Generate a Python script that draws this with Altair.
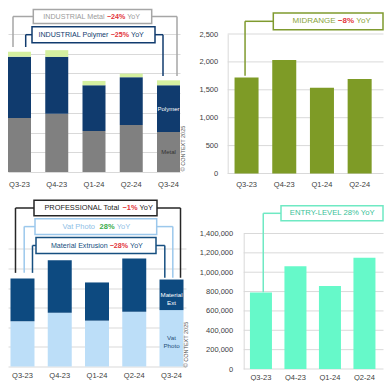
import altair as alt
import pandas as pd

# ---------------- data ----------------
quarters = ["Q3-23", "Q4-23", "Q1-24", "Q2-24", "Q3-24"]

ind_series = ["Metal", "Polymer", "Other"]
ind_metal = [274, 296, 208, 239, 203]
ind_polymer = [311, 288, 232, 242, 237]
ind_other = [25, 34, 22, 18, 25]
ind_ticks = [0, 100, 200, 300, 400, 500, 600, 700]

mid_units = [1722, 2034, 1537, 1693, 1573]
mid_ticks = [0, 500, 1000, 1500, 2000, 2500]

pro_series = ["Vat Photo", "Material Extrusion"]
pro_vat = [231, 275, 234, 280, 288]
pro_mat = [218, 267, 195, 271, 156]
pro_ticks = [0, 100, 200, 300, 400, 500, 600]

entry_units = [790000, 1061000, 858000, 1149000, 1007000]
entry_ticks = [0, 200000, 400000, 600000, 800000, 1000000, 1200000, 1400000]

# quarters whose bars fall inside the visible (cropped) area of the right-hand panels
visible_right = quarters[:4]

# ---------------- style ----------------
FONT = "Arial, Liberation Sans, sans-serif"
GRID = "#d9d9d9"
LABEL = "#404040"
RED = "#e2343a"
GREEN = "#3aab4a"
C_METAL = "#808080"
C_POLY = "#103b6e"
C_OTHER = "#d5f0a0"
C_MID = "#7e9b26"
C_VAT = "#bcdef8"
C_MAT = "#0d4a80"
C_ENTRY = "#66f9c9"

ONE = pd.DataFrame({"k": [0]})

AW = {' ': 278, '-': 333, '\u2212': 584, '%': 889, ',': 278, '.': 278,
      'A': 667, 'B': 667, 'C': 722, 'D': 722, 'E': 667, 'F': 611, 'G': 778, 'H': 722,
      'I': 278, 'J': 500, 'K': 667, 'L': 556, 'M': 833, 'N': 722, 'O': 778, 'P': 667,
      'Q': 778, 'R': 722, 'S': 667, 'T': 611, 'U': 722, 'V': 667, 'W': 944, 'X': 667,
      'Y': 667, 'Z': 611, 'a': 556, 'b': 556, 'c': 500, 'd': 556, 'e': 556, 'f': 278,
      'g': 556, 'h': 556, 'i': 222, 'j': 222, 'k': 500, 'l': 222, 'm': 833, 'n': 556,
      'o': 556, 'p': 556, 'q': 556, 'r': 333, 's': 500, 't': 278, 'u': 556, 'v': 500,
      'w': 722, 'x': 500, 'y': 500, 'z': 500}


def tw(s, fs):
    return sum(AW.get(c, 556) for c in s) * fs / 1000.0


def x_axis(pad, values=None):
    kw = dict(title=None, labelAngle=0, ticks=False, domain=False, grid=False,
              labelFontSize=7.5, labelColor=LABEL, labelPadding=pad, labelFont=FONT)
    if values is not None:
        kw["values"] = values
    return alt.Axis(**kw)


def hline(x1, x2, y, color, w=1.5):
    return alt.Chart(ONE).mark_rule(color=color, strokeWidth=w).encode(
        x=alt.value(x1), x2=alt.value(x2), y=alt.value(y))


def vline(xs, xa, ys, ya, q, v, dx, ytop, color, w=1.5):
    df = pd.DataFrame({"Q": [q], "v": [v]})
    return alt.Chart(df).mark_rule(color=color, strokeWidth=w, xOffset=dx).encode(
        x=alt.X("Q:N", scale=xs, axis=xa),
        y=alt.Y("v:Q", scale=ys, axis=ya),
        y2=alt.value(ytop))


def box(x1, x2, y1, y2, color, w=1.5):
    return alt.Chart(ONE).mark_rect(fill="white", stroke=color, strokeWidth=w).encode(
        x=alt.value(x1), x2=alt.value(x2), y=alt.value(y1), y2=alt.value(y2))


def rich(cx, cy, parts, fs):
    sp = tw(" ", fs)
    widths = [tw(t, fs) for t, _, _ in parts]
    total = sum(widths) + sp * (len(parts) - 1)
    x = cx - total / 2
    out = []
    for (t, col, bold), w in zip(parts, widths):
        out.append(alt.Chart(ONE).mark_text(
            align="left", baseline="middle", fontSize=fs, font=FONT, color=col,
            fontWeight="bold" if bold else "normal").encode(
            x=alt.value(x), y=alt.value(cy), text=alt.value(t)))
        x += w + sp
    return out


def copyright_mark(x, y):
    return alt.Chart(ONE).mark_text(angle=270, fontSize=5.5, font=FONT, color="#595959",
                                    align="center", baseline="middle").encode(
        x=alt.value(x), y=alt.value(y), text=alt.value("\u00a9 CONTEXT 2025"))


def y_axis_num(values, pad, offset=0):
    kw = dict(title=None, values=values, labelExpr="format(datum.value, ',')",
              labelFontSize=7.5, labelColor=LABEL, labelFont=FONT, labelPadding=pad,
              ticks=False, domain=True, domainColor=GRID, grid=False)
    if offset:
        kw["offset"] = offset
    return alt.Axis(**kw)


def grid_rules(ticks, ys, ya, x1, x2):
    return alt.Chart(pd.DataFrame({"t": ticks})).mark_rule(color=GRID, strokeWidth=1).encode(
        y=alt.Y("t:Q", scale=ys, axis=ya), x=alt.value(x1), x2=alt.value(x2))


# ================= INDUSTRIAL (top-left) =================
W_TL, H_TL = 172, 138
xs_tl = alt.Scale(domain=quarters, paddingInner=0.3826, paddingOuter=0)
ys_tl = alt.Scale(domain=[0, 700], nice=False)
xa_tl = x_axis(8)
ya_tl = alt.Axis(title=None, values=ind_ticks, labels=False, ticks=False, domain=False,
                 grid=True, gridColor=GRID, gridWidth=1)

tl_rows = []
tl_cols = [C_METAL, C_POLY, C_OTHER]
for i, q in enumerate(quarters):
    for k, (s, arr) in enumerate(zip(ind_series, [ind_metal, ind_polymer, ind_other])):
        tl_rows.append({"Q": q, "S": s, "V": arr[i], "k": k, "c": tl_cols[k]})
tl_df = pd.DataFrame(tl_rows)

tl_bars = alt.Chart(tl_df).mark_bar().encode(
    x=alt.X("Q:N", scale=xs_tl, axis=xa_tl),
    y=alt.Y("V:Q", scale=ys_tl, axis=ya_tl, stack="zero"),
    color=alt.Color("c:N", scale=None),
    order=alt.Order("k:Q", sort="ascending"),
)
ind_total = [a + b + c for a, b, c in zip(ind_metal, ind_polymer, ind_other)]
tl_lab = pd.DataFrame({
    "Q": [quarters[-1], quarters[-1]],
    "m": [ind_metal[-1] / 2, ind_metal[-1] + ind_polymer[-1] / 2],
    "t": ["Metal", "Polymer"],
    "c": ["#333333", "#ffffff"],
})
tl_text = alt.Chart(tl_lab).mark_text(fontSize=6, font=FONT, baseline="middle").encode(
    x=alt.X("Q:N", scale=xs_tl, axis=xa_tl),
    y=alt.Y("m:Q", scale=ys_tl, axis=ya_tl),
    text="t:N", color=alt.Color("c:N", scale=None))

C_MBOX = "#a6a6a6"
tl_layers = [
    tl_bars, tl_text,
    vline(xs_tl, xa_tl, ys_tl, ya_tl, quarters[0], ind_total[0] + 24, -6.5, -17.5, C_MBOX),
    hline(5, 25.3, -17.5, C_MBOX),
    vline(xs_tl, xa_tl, ys_tl, ya_tl, quarters[-1], ind_total[-1] + 22, 8.5, -17.5, C_MBOX),
    hline(143.7, 169, -17.5, C_MBOX),
    vline(xs_tl, xa_tl, ys_tl, ya_tl, quarters[0], ind_total[0] + 24, 6.2, 0.7, C_POLY),
    hline(17.7, 24, 0.7, C_POLY),
    vline(xs_tl, xa_tl, ys_tl, ya_tl, quarters[-1], ind_total[-1] + 22, -5.5, 0.7, C_POLY),
    hline(147, 155, 0.7, C_POLY),
    box(25.3, 143.7, -24.5, -10.5, C_MBOX),
    box(24, 147, -7.3, 8.7, C_POLY),
    copyright_mark(175, 114.5),
]
tl_layers += rich(84, -17.5, [("INDUSTRIAL Metal", "#9a9a9a", False),
                              ("\u221224%", RED, True), ("YoY", "#9a9a9a", False)], 7.1)
tl_layers += rich(83.5, 0.7, [("INDUSTRIAL Polymer", C_POLY, False),
                              ("\u221225%", RED, True), ("YoY", C_POLY, False)], 7.1)
tl = alt.layer(*tl_layers).properties(width=W_TL, height=H_TL)

# ================= MIDRANGE (top-right) =================
W_TR, H_TR = 156.3, 139.5
STEP_TR = 37.7
xs_tr = alt.Scale(domain=visible_right, range=[0, STEP_TR * len(visible_right)],
                  paddingInner=0.363, paddingOuter=0.1815)
ys_tr = alt.Scale(domain=[0, 2500], nice=False)
xa_tr = x_axis(7)
ya_tr = y_axis_num(mid_ticks, 10)
tr_df = pd.DataFrame({"Q": quarters, "V": mid_units})
tr_bars = alt.Chart(tr_df).mark_bar(color=C_MID).encode(
    x=alt.X("Q:N", scale=xs_tr, axis=xa_tr),
    y=alt.Y("V:Q", scale=ys_tr, axis=ya_tr),
).transform_filter(alt.FieldOneOfPredicate(field="Q", oneOf=visible_right))
C_MIDBOX = "#7f9a2e"
tr_layers = [
    grid_rules(mid_ticks, ys_tr, ya_tr, 0, W_TR - 0.5),
    tr_bars,
    vline(xs_tr, xa_tr, ys_tr, ya_tr, quarters[0], mid_units[0] + 30, -1.5, -12.7, C_MIDBOX),
    hline(17.3, 45.6, -12.7, C_MIDBOX),
    box(45.6, 155.3, -21, -4.3, C_MIDBOX),
]
tr_layers += rich(104.3, -12.7, [("MIDRANGE", "#8aa53c", False),
                                 ("\u22128%", RED, True), ("YoY", "#8aa53c", False)], 8.0)
tr = alt.layer(*tr_layers).properties(width=W_TR, height=H_TR)

# ================= PROFESSIONAL (bottom-left) =================
W_BL, H_BL = 178, 133
xs_bl = alt.Scale(domain=quarters, paddingInner=0.356, paddingOuter=0.067)
ys_bl = alt.Scale(domain=[0, 678.9], nice=False)
xa_bl = x_axis(5)
ya_bl = alt.Axis(title=None, values=pro_ticks, labels=False, ticks=False, domain=False,
                 grid=True, gridColor=GRID, gridWidth=1)
bl_rows = []
bl_cols = [C_VAT, C_MAT]
for i, q in enumerate(quarters):
    for k, (s, arr) in enumerate(zip(pro_series, [pro_vat, pro_mat])):
        bl_rows.append({"Q": q, "S": s, "V": arr[i], "k": k, "c": bl_cols[k]})
bl_df = pd.DataFrame(bl_rows)
bl_bars = alt.Chart(bl_df).mark_bar().encode(
    x=alt.X("Q:N", scale=xs_bl, axis=xa_bl),
    y=alt.Y("V:Q", scale=ys_bl, axis=ya_bl, stack="zero"),
    color=alt.Color("c:N", scale=None),
    order=alt.Order("k:Q", sort="ascending"),
)
bl_lab = pd.DataFrame({
    "Q": [quarters[-1], quarters[-1]],
    "m": [pro_vat[-1] / 2, pro_vat[-1] + pro_mat[-1] / 2],
    "t": ["Vat\nPhoto", "Material\nExt"],
    "c": ["#1f4e79", "#ffffff"],
})
bl_text = alt.Chart(bl_lab).mark_text(fontSize=6.2, font=FONT, baseline="middle",
                                      lineBreak="\n", lineHeight=8).encode(
    x=alt.X("Q:N", scale=xs_bl, axis=xa_bl),
    y=alt.Y("m:Q", scale=ys_bl, axis=ya_bl),
    text="t:N", color=alt.Color("c:N", scale=None))
pro_total = [a + b for a, b in zip(pro_vat, pro_mat)]
C_PRO = "#262626"
C_VATBOX = "#9cc8ec"
C_MATBOX = "#164f80"
bl_layers = [
    bl_bars, bl_text,
    vline(xs_bl, xa_bl, ys_bl, ya_bl, quarters[0], pro_total[0] + 29, -7, -25.5, C_PRO),
    hline(7.5, 26, -25.5, C_PRO),
    vline(xs_bl, xa_bl, ys_bl, ya_bl, quarters[-1], pro_total[-1] + 9, 9, -25.5, C_PRO),
    hline(149, 172.5, -25.5, C_PRO),
    vline(xs_bl, xa_bl, ys_bl, ya_bl, quarters[0], pro_total[0] + 29, 1.7, -6.9, C_VATBOX),
    hline(16.2, 27, -6.9, C_VATBOX),
    vline(xs_bl, xa_bl, ys_bl, ya_bl, quarters[-1], pro_total[-1] + 9, 1.3, -6.9, C_VATBOX),
    hline(148.7, 164.8, -6.9, C_VATBOX),
    vline(xs_bl, xa_bl, ys_bl, ya_bl, quarters[0], pro_total[0] + 29, 10, 12, C_MATBOX),
    hline(24.5, 28, 12, C_MATBOX),
    vline(xs_bl, xa_bl, ys_bl, ya_bl, quarters[-1], pro_total[-1] + 9, -6.7, 12, C_MATBOX),
    hline(148, 156.8, 12, C_MATBOX),
    box(26, 149, -33.3, -17.7, C_PRO),
    box(27, 148.7, -14.7, 0.9, C_VATBOX),
    box(28, 148, 4, 20, C_MATBOX),
    copyright_mark(177.7, 111),
]
bl_layers += rich(91, -25.5, [("PROFESSIONAL Total", "#1a1a1a", False),
                              ("\u22121%", RED, True), ("YoY", "#1a1a1a", False)], 7.4)
bl_layers += rich(88.7, -6.9, [("Vat Photo ", "#8fc0e6", False),
                               ("28%", GREEN, True), ("YoY", "#8fc0e6", False)], 7.5)
bl_layers += rich(89.2, 12, [("Material Extrusion", C_MATBOX, False),
                             ("\u221228%", RED, True), ("YoY", C_MATBOX, False)], 7.1)
bl = alt.layer(*bl_layers).properties(width=W_BL, height=H_BL)

# ================= ENTRY-LEVEL (bottom-right) =================
W_BR, H_BR = 156.3, 135.5
STEP_BR = 34.5
xs_br = alt.Scale(domain=visible_right, range=[16, 16 + STEP_BR * len(visible_right)],
                  paddingInner=0.362, paddingOuter=0.181)
ys_br = alt.Scale(domain=[0, 1400000], nice=False)
xa_br = x_axis(4)
ya_br = y_axis_num(entry_ticks, 11, offset=-16)
br_df = pd.DataFrame({"Q": quarters, "V": entry_units})
br_bars = alt.Chart(br_df).mark_bar(color=C_ENTRY).encode(
    x=alt.X("Q:N", scale=xs_br, axis=xa_br),
    y=alt.Y("V:Q", scale=ys_br, axis=ya_br),
).transform_filter(alt.FieldOneOfPredicate(field="Q", oneOf=visible_right))
C_ENTBOX = "#6fe9c3"
br_layers = [
    grid_rules(entry_ticks, ys_br, ya_br, 16, W_BR - 0.5),
    br_bars,
    vline(xs_br, xa_br, ys_br, ya_br, quarters[0], entry_units[0] + 4000, 2.3, -20.2, C_ENTBOX),
    hline(35.6, 53.3, -20.2, C_ENTBOX),
    box(53.3, 155.3, -27.7, -12.7, C_ENTBOX),
]
br_layers += rich(105.6, -20.2, [("ENTRY-LEVEL 28% YoY", "#3bbf98", False)], 7.7)
br = alt.layer(*br_layers).properties(width=W_BR, height=H_BR)

chart = alt.concat(tl, tr, bl, br, columns=2, spacing={"row": 59.5, "column": 41.7}).properties(
    bounds="flush", align="all", padding=0, background="white"
).configure_view(stroke=None).configure_axis(labelFont=FONT)

chart.save("out.html", embed_options={"renderer": "svg", "actions": False})
